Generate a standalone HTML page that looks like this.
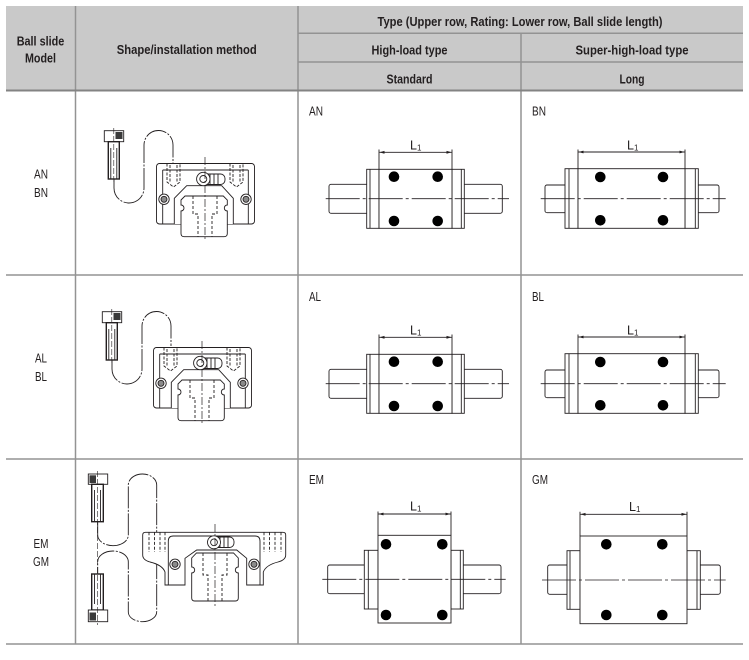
<!DOCTYPE html>
<html><head><meta charset="utf-8"><style>
html,body{margin:0;padding:0;background:#fff;}
svg{display:block;}
text{font-family:"Liberation Sans",Arial,sans-serif;fill:#231f20;}
.h{font-weight:bold;font-size:13px;}
.l{font-size:12.5px;}
</style></head><body>
<svg width="749" height="660" viewBox="0 0 749 660" xmlns="http://www.w3.org/2000/svg">
<defs>
<marker id="al" markerWidth="6" markerHeight="6" refX="0" refY="3" orient="auto" markerUnits="userSpaceOnUse"><path d="M0,3 L5,1.6 L5,4.4 Z" fill="#231f20"/></marker>
<marker id="ar" markerWidth="6" markerHeight="6" refX="5" refY="3" orient="auto" markerUnits="userSpaceOnUse"><path d="M5,3 L0,1.6 L0,4.4 Z" fill="#231f20"/></marker>
</defs>
<rect x="0" y="0" width="749" height="660" fill="#fff"/>
<!-- header -->
<rect x="6" y="6" width="737" height="84.5" fill="#c9c9c9"/>
<g stroke="#939393" stroke-width="1.5" fill="none">
<line x1="298" y1="33.3" x2="743" y2="33.3"/>
<line x1="298" y1="62" x2="743" y2="62"/>
<line x1="75.5" y1="6" x2="75.5" y2="644"/>
<line x1="298" y1="6" x2="298" y2="644"/>
<line x1="521" y1="33.3" x2="521" y2="644"/>
<line x1="6" y1="275" x2="743" y2="275"/>
<line x1="6" y1="459" x2="743" y2="459"/>
<line x1="6" y1="644" x2="743" y2="644"/>
</g>
<line x1="6" y1="90.5" x2="743" y2="90.5" stroke="#838383" stroke-width="2"/>

<text class="h" x="40.5" y="45.7" text-anchor="middle" textLength="47.6" lengthAdjust="spacingAndGlyphs">Ball slide</text>
<text class="h" x="40.5" y="62.3" text-anchor="middle" textLength="31" lengthAdjust="spacingAndGlyphs">Model</text>
<text class="h" x="186.7" y="54" text-anchor="middle" textLength="140" lengthAdjust="spacingAndGlyphs">Shape/installation method</text>
<text class="h" x="520" y="26" text-anchor="middle" textLength="285" lengthAdjust="spacingAndGlyphs">Type (Upper row, Rating: Lower row, Ball slide length)</text>
<text class="h" x="409.5" y="54.3" text-anchor="middle" textLength="76" lengthAdjust="spacingAndGlyphs">High-load type</text>
<text class="h" x="632" y="54.3" text-anchor="middle" textLength="113" lengthAdjust="spacingAndGlyphs">Super-high-load type</text>
<text class="h" x="409.5" y="83.3" text-anchor="middle" textLength="46" lengthAdjust="spacingAndGlyphs">Standard</text>
<text class="h" x="632" y="83.3" text-anchor="middle" textLength="25" lengthAdjust="spacingAndGlyphs">Long</text>

<!-- left column labels -->
<text class="l" x="41" y="178.5" text-anchor="middle" textLength="14" lengthAdjust="spacingAndGlyphs">AN</text>
<text class="l" x="41" y="196.8" text-anchor="middle" textLength="14" lengthAdjust="spacingAndGlyphs">BN</text>
<text class="l" x="41" y="362.6" text-anchor="middle" textLength="12" lengthAdjust="spacingAndGlyphs">AL</text>
<text class="l" x="41" y="381" text-anchor="middle" textLength="12" lengthAdjust="spacingAndGlyphs">BL</text>
<text class="l" x="41" y="547.8" text-anchor="middle" textLength="15" lengthAdjust="spacingAndGlyphs">EM</text>
<text class="l" x="41" y="566.2" text-anchor="middle" textLength="16" lengthAdjust="spacingAndGlyphs">GM</text>

<!-- cell labels -->
<text class="l" x="309" y="115.5" textLength="14" lengthAdjust="spacingAndGlyphs">AN</text>
<text class="l" x="532" y="115.5" textLength="14" lengthAdjust="spacingAndGlyphs">BN</text>
<text class="l" x="309" y="301" textLength="12" lengthAdjust="spacingAndGlyphs">AL</text>
<text class="l" x="532" y="301" textLength="12" lengthAdjust="spacingAndGlyphs">BL</text>
<text class="l" x="309" y="484" textLength="15" lengthAdjust="spacingAndGlyphs">EM</text>
<text class="l" x="532" y="484" textLength="16" lengthAdjust="spacingAndGlyphs">GM</text>

<!-- ===== Standard type drawing (AN) ===== -->
<g id="stdA" stroke="#231f20" stroke-width="0.9" fill="#fff">
<rect x="329" y="184.3" width="40" height="29" rx="2"/>
<rect x="462" y="184.3" width="40.3" height="29" rx="2"/>
<rect x="366.7" y="169.3" width="12.3" height="59"/>
<line x1="370" y1="169.3" x2="370" y2="228.3"/>
<rect x="452" y="169.3" width="12.3" height="59"/>
<line x1="461.3" y1="169.3" x2="461.3" y2="228.3"/>
<rect x="379" y="169.3" width="73" height="59"/>
<line x1="379" y1="149.5" x2="379" y2="169.3" fill="none"/>
<line x1="452" y1="149.5" x2="452" y2="169.3" fill="none"/>
<line x1="379.5" y1="152.3" x2="451.5" y2="152.3" fill="none" marker-start="url(#al)" marker-end="url(#ar)"/>
<line x1="325.7" y1="198.7" x2="509" y2="198.7" fill="none" stroke-width="0.8" stroke-dasharray="34 3 3 3"/>
<g fill="#000" stroke="none">
<circle cx="394" cy="176.7" r="5.3"/><circle cx="437.7" cy="176.7" r="5.3"/>
<circle cx="394" cy="221" r="5.3"/><circle cx="437.7" cy="221" r="5.3"/>
</g>
</g>
<text x="410" y="149.5" font-size="12.5">L<tspan font-size="8" dy="1">1</tspan></text>

<use href="#stdA" transform="translate(0,185)"/>
<text x="410" y="334.5" font-size="12.5">L<tspan font-size="8" dy="1">1</tspan></text>

<!-- ===== Long type drawing (BL) ===== -->
<g id="longB" stroke="#231f20" stroke-width="0.9" fill="#fff">
<rect x="545" y="370" width="22" height="27.7" rx="2"/>
<rect x="696.5" y="370" width="22.5" height="27.7" rx="2"/>
<rect x="565" y="353.7" width="13" height="59.6"/>
<line x1="569" y1="353.7" x2="569" y2="413.3"/>
<rect x="685" y="353.7" width="13.3" height="59.6"/>
<line x1="695.3" y1="353.7" x2="695.3" y2="413.3"/>
<rect x="578" y="353.7" width="107" height="59.6"/>
<line x1="578" y1="334.5" x2="578" y2="353.7" fill="none"/>
<line x1="685" y1="334.5" x2="685" y2="353.7" fill="none"/>
<line x1="578.5" y1="337" x2="684.5" y2="337" fill="none" marker-start="url(#al)" marker-end="url(#ar)"/>
<line x1="540.7" y1="383.7" x2="725.7" y2="383.7" fill="none" stroke-width="0.8" stroke-dasharray="34 3 3 3"/>
<g fill="#000" stroke="none">
<circle cx="600.3" cy="362" r="5.3"/><circle cx="663" cy="362" r="5.3"/>
<circle cx="600.3" cy="405.3" r="5.3"/><circle cx="663" cy="405.3" r="5.3"/>
</g>
</g>
<text x="627" y="334.5" font-size="12.5">L<tspan font-size="8" dy="1">1</tspan></text>

<use href="#longB" transform="translate(0,-185)"/>
<text x="627" y="149.5" font-size="12.5">L<tspan font-size="8" dy="1">1</tspan></text>

<!-- ===== EM ===== -->
<g stroke="#231f20" stroke-width="0.9" fill="#fff">
<rect x="327.7" y="565" width="38.6" height="28.7" rx="2"/>
<rect x="461.3" y="565" width="39.7" height="28.7" rx="2"/>
<rect x="364.3" y="550.3" width="13.7" height="58.7"/>
<line x1="368.3" y1="550.3" x2="368.3" y2="609"/>
<rect x="451" y="550.3" width="12.3" height="58.7"/>
<line x1="460.3" y1="550.3" x2="460.3" y2="609"/>
<rect x="378" y="535.3" width="73" height="87.7"/>
<line x1="378" y1="511.5" x2="378" y2="535.3" fill="none"/>
<line x1="451" y1="511.5" x2="451" y2="535.3" fill="none"/>
<line x1="378.5" y1="514" x2="450.5" y2="514" fill="none" marker-start="url(#al)" marker-end="url(#ar)"/>
<line x1="322.3" y1="579.3" x2="505.7" y2="579.3" fill="none" stroke-width="0.8" stroke-dasharray="34 3 3 3"/>
<g fill="#000" stroke="none">
<circle cx="386" cy="544.3" r="5.3"/><circle cx="442.3" cy="544.3" r="5.3"/>
<circle cx="386" cy="615" r="5.3"/><circle cx="442.3" cy="615" r="5.3"/>
</g>
</g>
<text x="410" y="510.5" font-size="12.5">L<tspan font-size="8" dy="1">1</tspan></text>

<!-- ===== GM ===== -->
<g stroke="#231f20" stroke-width="0.9" fill="#fff">
<rect x="547.7" y="565" width="21" height="29.3" rx="2"/>
<rect x="698.5" y="565" width="21.8" height="29.3" rx="2"/>
<rect x="567" y="550.7" width="13" height="58.6"/>
<line x1="570" y1="550.7" x2="570" y2="609.3"/>
<rect x="687" y="550.7" width="13.3" height="58.6"/>
<line x1="697" y1="550.7" x2="697" y2="609.3"/>
<rect x="580" y="536" width="107" height="87.7"/>
<line x1="580" y1="511.8" x2="580" y2="536" fill="none"/>
<line x1="687" y1="511.8" x2="687" y2="536" fill="none"/>
<line x1="580.5" y1="514.3" x2="686.5" y2="514.3" fill="none" marker-start="url(#al)" marker-end="url(#ar)"/>
<line x1="542" y1="580" x2="725.7" y2="580" fill="none" stroke-width="0.8" stroke-dasharray="34 3 3 3"/>
<g fill="#000" stroke="none">
<circle cx="606.3" cy="544.3" r="5.3"/><circle cx="662.3" cy="544.3" r="5.3"/>
<circle cx="606.3" cy="615" r="5.3"/><circle cx="662.3" cy="615" r="5.3"/>
</g>
</g>
<text x="629" y="511" font-size="12.5">L<tspan font-size="8" dy="1">1</tspan></text>

<!-- ===== Installation row 1 ===== -->
<g id="bolt1" stroke="#231f20" stroke-width="0.9" fill="none">
<path d="M114,179 V188 A15,15 0 0 0 144,188 V145 A14.5,14.5 0 0 1 173,145 V165" stroke-dasharray="22 1.5 2 1.5"/>
<rect x="104.3" y="130.7" width="19.4" height="11" fill="#fff"/>
<rect x="115.5" y="132" width="7" height="7" fill="#3a3a3a" stroke="none"/>
<rect x="108.3" y="141.7" width="11" height="37.3" fill="#fff" stroke-width="1.4"/>
<line x1="110.8" y1="148" x2="110.8" y2="179"/>
<line x1="116.8" y1="148" x2="116.8" y2="179"/>
<line x1="113.8" y1="128" x2="113.8" y2="182" stroke-width="0.6" stroke-dasharray="6 2"/>
</g>
<g id="blk1" stroke="#231f20" stroke-width="0.9" fill="none">
<rect x="156.5" y="163.5" width="98" height="60.5" rx="3" fill="#fff"/>
<line x1="162.7" y1="170" x2="248.3" y2="170"/>
<line x1="162.7" y1="170" x2="162.7" y2="224"/>
<line x1="248.3" y1="170" x2="248.3" y2="224"/>
<path d="M174.3,224 V198.3 L186.7,185.7 H221.7 L233.3,198.3 V224" fill="#fff"/>
<path d="M181,200 L185,196 H223.3 L227.3,200 V205 a3,3 0 0 0 0,6 V233.5 q0,3.2 -3.2,3.2 H184.2 q-3.2,0 -3.2,-3.2 V211 a3,3 0 0 0 0,-6 Z" fill="#fff"/>
<path d="M193,196 V214 H198 V236.7 M217,196 V214 H212 V236.7" stroke-dasharray="3 2"/>
<path d="M167,163.5 V182 L173.5,187 L180,182 V163.5 M170,165 V183 M177,165 V183" stroke-dasharray="3 1.5"/>
<path d="M230,163.5 V182 L236.5,187 L243,182 V163.5 M233,165 V183 M240,165 V183" stroke-dasharray="3 1.5"/>
<circle cx="164" cy="199.3" r="5.2" fill="#fff"/>
<circle cx="164" cy="199.3" r="3" fill="#8a8a8a"/>
<circle cx="246" cy="199.3" r="5.2" fill="#fff"/>
<circle cx="246" cy="199.3" r="3" fill="#8a8a8a"/>
<rect x="203" y="174" width="22" height="10.5" rx="4.5" fill="#fff"/>
<line x1="210" y1="174" x2="210" y2="184.5"/>
<line x1="214" y1="174" x2="214" y2="184.5"/>
<line x1="218" y1="174" x2="218" y2="184.5"/>
<circle cx="203.3" cy="179" r="6.7" fill="#fff"/>
<circle cx="203.3" cy="179" r="3.5"/>
<line x1="205" y1="157" x2="205" y2="240" stroke-width="0.7" stroke-dasharray="8 2 2 2"/>
</g>

<!-- ===== Installation row 2 ===== -->
<use href="#bolt1" transform="translate(-2,181)"/>
<use href="#blk1" transform="translate(-3,184)"/>

<!-- ===== Installation row 3 ===== -->
<g stroke="#231f20" stroke-width="0.9" fill="none">
<path d="M97.7,521.7 V535 A15.3,10.7 0 0 0 128.3,535 V485 A14.2,11 0 0 1 156.7,485 V611.7 A14.2,10 0 0 1 128.3,611.7 V561.7 A15.3,10.7 0 0 0 97.7,561.7 V574" stroke-dasharray="22 1.5 2 1.5"/>
<!-- top bolt -->
<rect x="88.3" y="474" width="19.4" height="10.3" fill="#fff"/>
<rect x="89.5" y="475.3" width="6.5" height="7.7" fill="#3a3a3a" stroke="none"/>
<rect x="91.7" y="484.3" width="11.6" height="37.4" fill="#fff" stroke-width="1.4"/>
<line x1="94.5" y1="490" x2="94.5" y2="521.7"/>
<line x1="100.5" y1="490" x2="100.5" y2="521.7"/>
<!-- bottom bolt -->
<rect x="91.7" y="574" width="11.6" height="36" fill="#fff" stroke-width="1.4"/>
<line x1="94.5" y1="574" x2="94.5" y2="604"/>
<line x1="100.5" y1="574" x2="100.5" y2="604"/>
<rect x="88.3" y="610" width="19.4" height="11.7" fill="#fff"/>
<rect x="89.5" y="612.5" width="6.5" height="8" fill="#3a3a3a" stroke="none"/>
<line x1="97.5" y1="471" x2="97.5" y2="625" stroke-width="0.6" stroke-dasharray="6 2"/>
<!-- flange block -->
<path d="M142.7,555 V535 q0,-2.7 2.7,-2.7 H283 q2.7,0 2.7,2.7 V555 Q285.7,560 278,562 Q266,565 263.3,572 V585 H246.7 V558.3 L236.7,550 H196.7 L185,558.3 V585 H165 V572 Q162.5,565 150,562 Q142.7,560 142.7,555 Z" fill="#fff"/>
<path d="M168.3,585 V541 q0,-5 5,-5 H255 q5,0 5,5 V585"/>
<path d="M149,532.3 V552 M154.5,532.3 V552 M160,532.3 V552 M165,532.3 V552 M264,532.3 V552 M269.5,532.3 V552 M275,532.3 V552 M281,532.3 V552" stroke-dasharray="3 1.8"/>
<path d="M191.7,558 L196.5,553 H233.5 L238.3,558 V567 a3,3 0 0 0 0,6 V598 q0,3 -3,3 H194.7 q-3,0 -3,-3 V573 a3,3 0 0 0 0,-6 Z" fill="#fff"/>
<path d="M203,553 V575 H208 V601 M227,553 V575 H222 V601" stroke-dasharray="3 2"/>
<circle cx="175" cy="564.3" r="5.2" fill="#fff"/>
<circle cx="175" cy="564.3" r="3" fill="#8a8a8a"/>
<circle cx="254" cy="564.3" r="5.2" fill="#fff"/>
<circle cx="254" cy="564.3" r="3" fill="#8a8a8a"/>
<rect x="213" y="537" width="21" height="10.5" rx="4.5" fill="#fff"/>
<line x1="220" y1="537" x2="220" y2="547.5"/>
<line x1="224" y1="537" x2="224" y2="547.5"/>
<line x1="228" y1="537" x2="228" y2="547.5"/>
<circle cx="214" cy="542.3" r="6.5" fill="#fff"/>
<circle cx="214" cy="542.3" r="3.4"/>
<line x1="215" y1="524" x2="215" y2="606" stroke-width="0.7" stroke-dasharray="8 2 2 2"/>
</g>
</svg>
</body></html>
